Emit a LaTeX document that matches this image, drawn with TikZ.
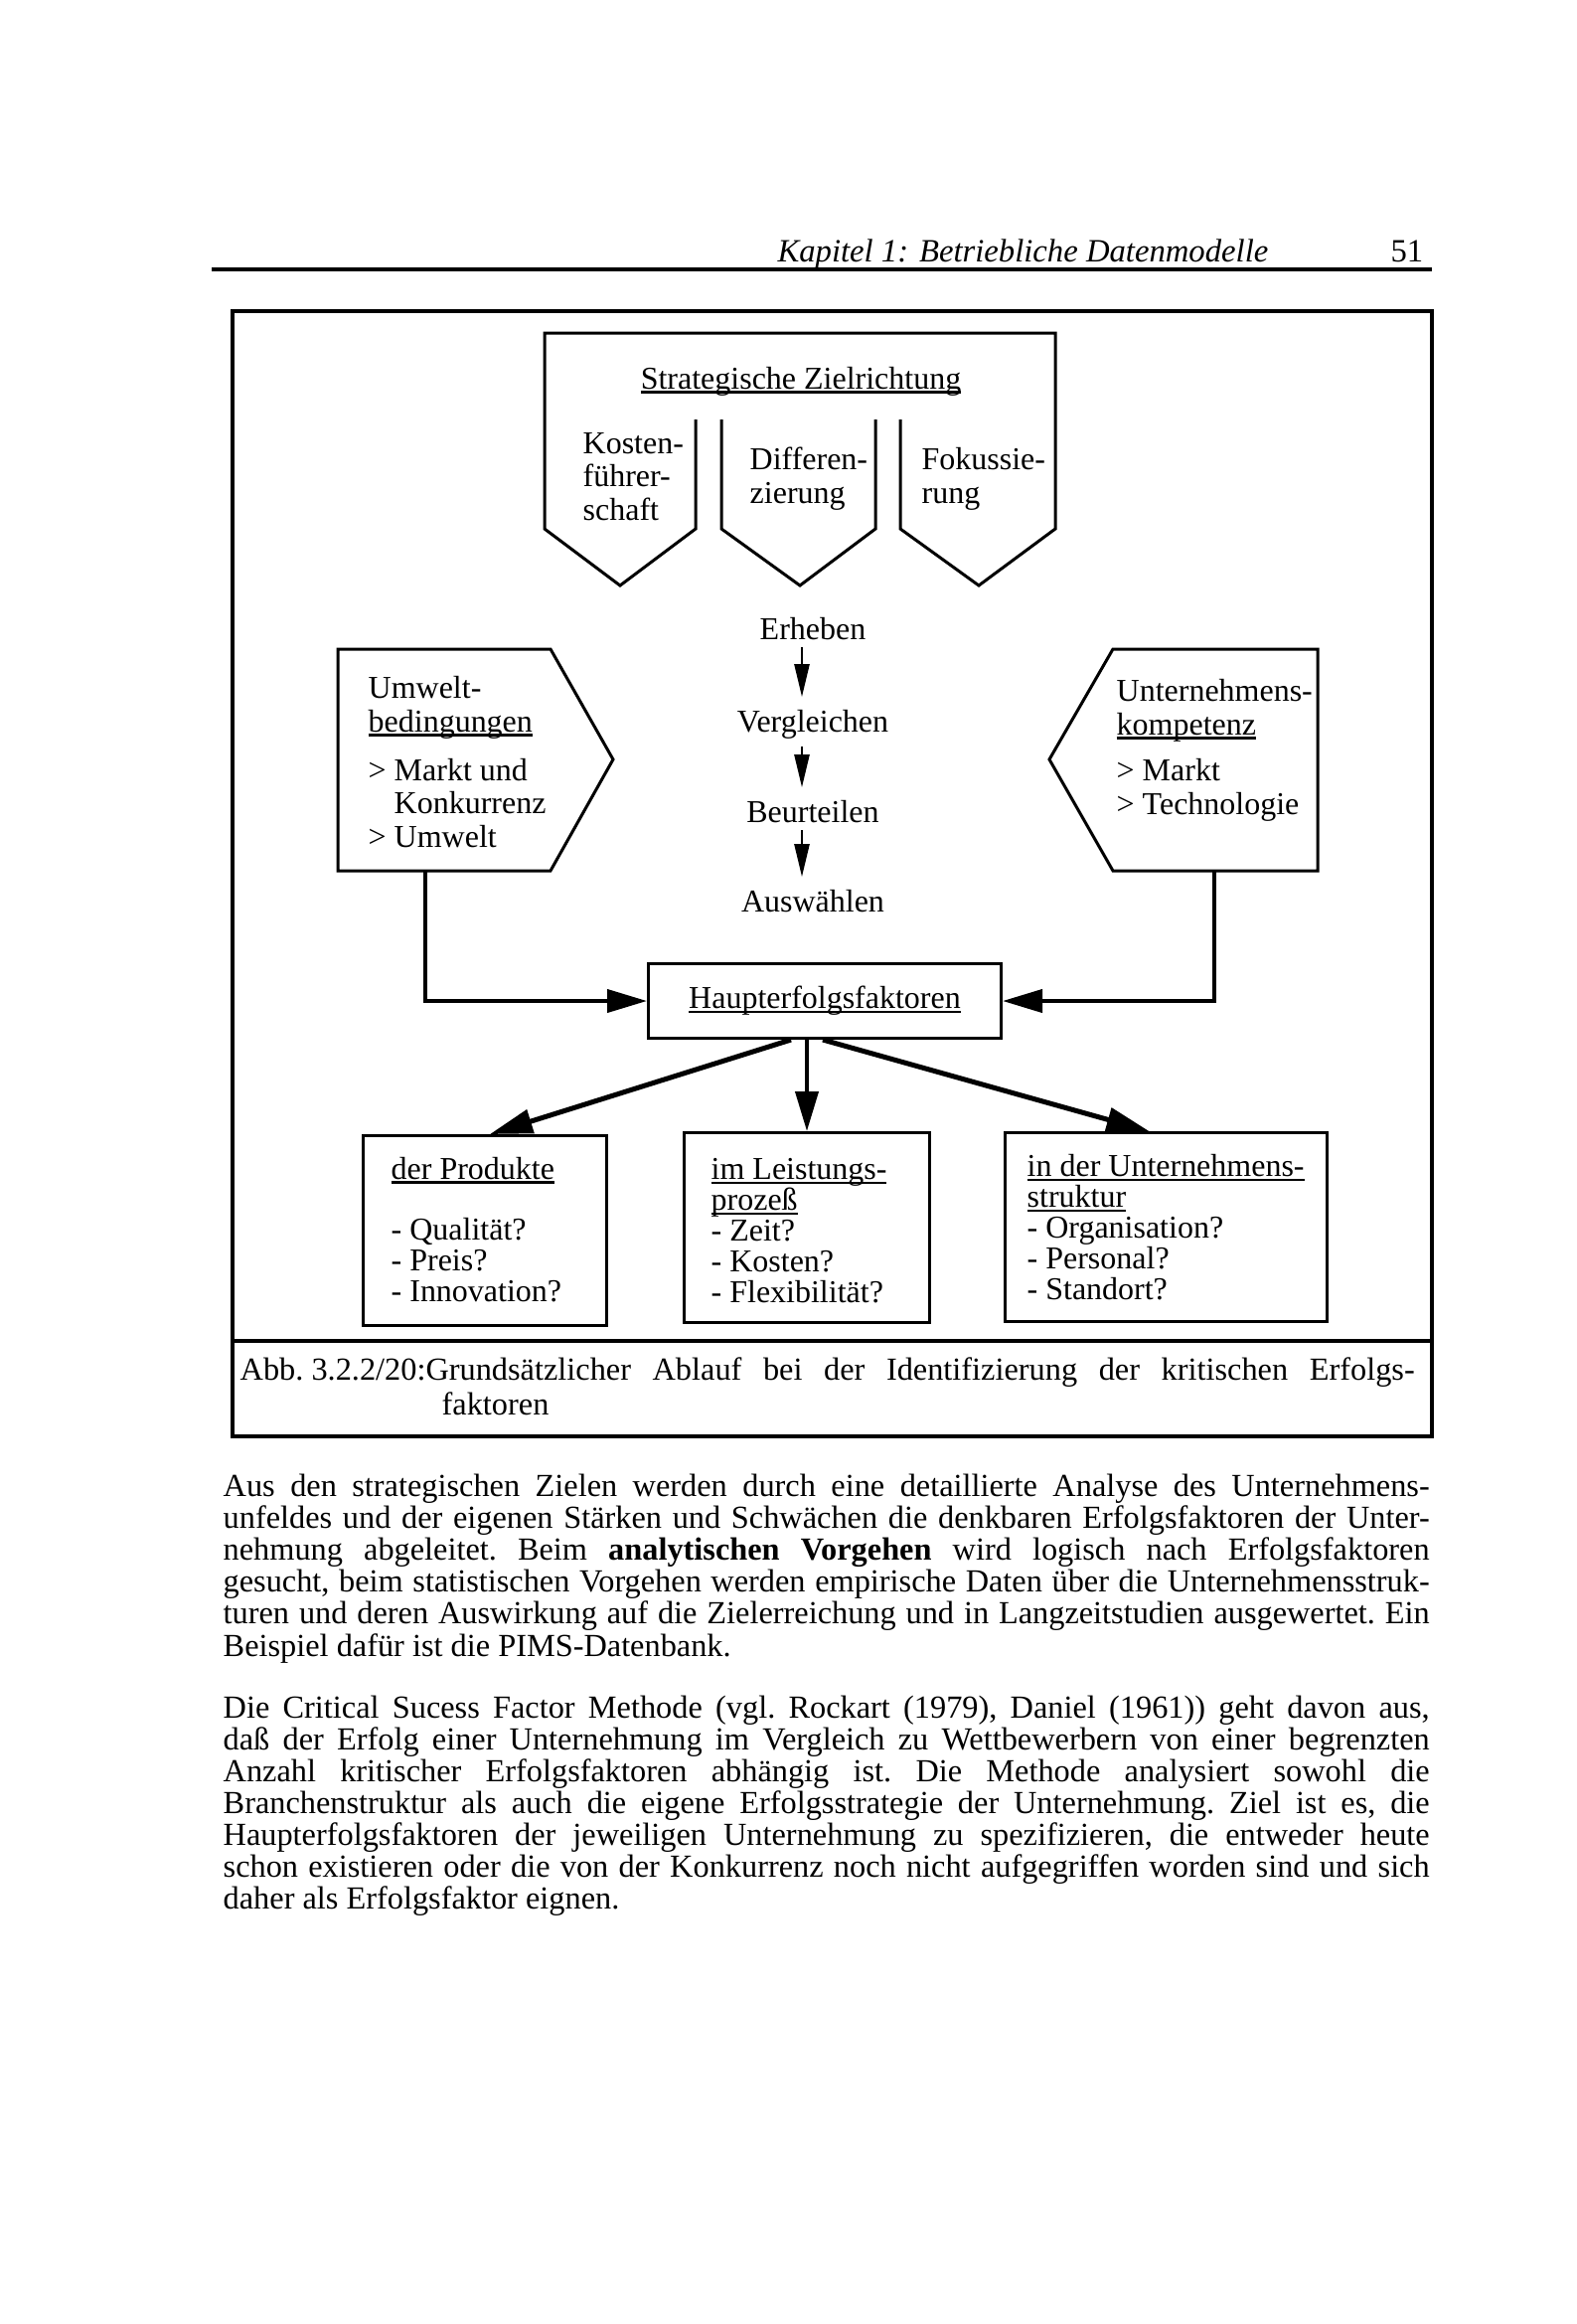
\documentclass[tikz,border=0pt]{standalone}
\usepackage{fontspec}
\setmainfont{Liberation Serif}
\usepackage{graphicx}
\usetikzlibrary{arrows.meta, calc}

% Schriften
\newcommand\dgfont{\fontsize{9.1}{9.4}\selectfont\lineskiplimit=-20pt}
\newcommand\boxfont{\fontsize{9.1}{8.8}\selectfont\lineskiplimit=-20pt}
\newcommand\txfont{\fontsize{9.2}{9.4}\selectfont\frenchspacing}
\newcommand\hdfont{\fontsize{9.3}{9.6}\selectfont}

% Unterstreichung durch die Unterlaengen
\newsavebox\ulbox
\newcommand\uln[1]{\sbox\ulbox{#1}\rlap{\rule[-0.45mm]{\wd\ulbox}{0.22mm}}\usebox\ulbox}

% Blocksatz einer Zeile
\newsavebox\zeilebox
\newlength\bodyw \setlength\bodyw{121.4mm}
\newcommand\fitline[2]{\sbox\zeilebox{#2}%
  \ifdim\wd\zeilebox>#1\relax\resizebox{#1}{\height}{\usebox\zeilebox}%
  \else\makebox[#1][s]{#2}\fi}

\begin{document}
\begin{tikzpicture}[x=0.1mm, y=-0.1mm,
  txt/.style={inner sep=0pt, anchor=base west, align=left, font=\dgfont},
  box/.style={draw, line width=0.3mm},
  flow/.style={-{Triangle[length=3.3mm,width=1.5mm]}, line width=0.25mm, shorten <=0.7mm, shorten >=1.2mm},
  feed/.style={-{Triangle[length=4mm,width=2.3mm]}, line width=0.4mm},
  feedD/.style={-{Triangle[length=4.3mm,width=2.4mm]}, line width=0.5mm},
  body/.style={inner sep=0pt, anchor=base west, font=\txfont}]

\useasboundingbox (0,0) rectangle (1587,2338);

% Kopfzeile
\node[inner sep=0pt, anchor=base east, font=\hdfont\itshape] (kopf) at (1277,263) {Kapitel 1: Betriebliche Datenmodelle};
\node[inner sep=0pt, anchor=base east, font=\hdfont] (seite) at (1433,263) {51};
\draw[line width=0.45mm] (213,271) -- (1441,271);

% Rahmen der Abbildung
\draw[line width=0.4mm] (234,313) rectangle (1441,1445);
\draw[line width=0.35mm] (234,1349) -- (1441,1349);

% Strategische Zielrichtung (Grundlinie = letzte Zeile)
\draw[box] (700,422) -- (700,532) -- (624,589) -- (548,532) -- (548,335) -- (1062,335) -- (1062,532) -- (985,589) -- (906,532) -- (906,422);
\draw[box] (726,422) -- (726,532) -- (805,589) -- (881,532) -- (881,422);
\node[txt, anchor=base] (ziel) at (806,391) {\uln{Strategische Zielrichtung}};
\node[txt] (kosten) at (586,523) {Kosten-\\führer-\\schaft};
\node[txt] (diff) at (754,506) {Differen-\\zierung};
\node[txt] (fokus) at (927,506) {Fokussie-\\rung};

% Ablauf
\node[txt, anchor=base] (erh) at (818,643) {Erheben};
\node[txt, anchor=base] (verg) at (818,736) {Vergleichen};
\node[txt, anchor=base] (beur) at (818,827) {Beurteilen};
\node[txt, anchor=base] (ausw) at (818,917) {Auswählen};
\foreach \a/\b in {erh/verg, verg/beur, beur/ausw}
  \draw[flow] ([xshift=-1.1mm]\a.south) -- ([xshift=-1.1mm]\b.north);

% Umweltbedingungen
\draw[box] (340,653) -- (554,653) -- (617,764) -- (554,876) -- (340,876) -- cycle;
\node[txt] (umw) at (370,736) {Umwelt-\\\uln{bedingungen}};
\node[txt] (umwlist) at (370,852) {> Markt und\\\phantom{> }Konkurrenz\\> Umwelt};
\coordinate (umwfuss) at (428,876);

% Unternehmenskompetenz
\draw[box] (1326,653) -- (1120,653) -- (1056,764) -- (1120,876) -- (1326,876) -- cycle;
\node[txt] (unt) at (1123,739) {Unternehmens-\\\uln{kompetenz}};
\node[txt] (untlist) at (1123,819) {> Markt\\> Technologie};
\coordinate (untfuss) at (1222,876);

% Haupterfolgsfaktoren
\node[box, minimum width=35.5mm, minimum height=7.5mm, anchor=north west, inner sep=0pt, font=\dgfont] (haupt) at (651,968) {\uln{Haupterfolgsfaktoren}};
\draw[feed] (umwfuss) |- (haupt.west);
\draw[feed] (untfuss) |- (haupt.east);

% Felder der Erfolgsfaktoren
\node[box, minimum width=24.5mm, minimum height=19.1mm, anchor=north west] (prod) at (364,1141) {};
\node[box, minimum width=24.7mm, minimum height=19.1mm, anchor=north west] (leist) at (687,1138) {};
\node[box, minimum width=32.4mm, minimum height=19mm, anchor=north west] (struk) at (1010,1138) {};

\node[txt] (prodkopf) at (393,1186) {\uln{der Produkte}};
\node[txt, font=\boxfont] (prodlist) at (393,1309) {- Qualität?\\- Preis?\\- Innovation?};
\node[txt, font=\boxfont] (leisttxt) at (715,1310) {\uln{im Leistungs-}\\\uln{prozeß}\\- Zeit?\\- Kosten?\\- Flexibilität?};
\node[txt, font=\boxfont] (struktxt) at (1033,1307) {\uln{in der Unternehmens-}\\\uln{struktur}\\- Organisation?\\- Personal?\\- Standort?};

\coordinate (hfuss) at (haupt.south -| leist.north);
\draw[feed] (hfuss) -- (leist.north);
\draw[feedD] ([xshift=-1.6mm]hfuss) -- ([xshift=0.5mm]prod.north);
\draw[feedD] ([xshift=1.6mm]hfuss) -- ([xshift=-1.7mm]struk.north);

% Bildunterschrift
\node[body] (abb) at (241,1388) {\fitline{118.2mm}{\mbox{Abb. 3.2.2/20:Grundsätzlicher} Ablauf bei der Identifizierung der kritischen Erfolgs-}};
\node[body] (abbrest) at (444,1423) {faktoren};

% Text
\foreach \zeile [count=\i] in {
  {Aus den strategischen Zielen werden durch eine detaillierte Analyse des Unternehmens-},
  {unfeldes und der eigenen Stärken und Schwächen die denkbaren Erfolgsfaktoren der Unter-},
  {nehmung abgeleitet. Beim \textbf{analytischen Vorgehen} wird logisch nach Erfolgsfaktoren},
  {gesucht, beim statistischen Vorgehen werden empirische Daten über die Unternehmensstruk-},
  {turen und deren Auswirkung auf die Zielerreichung und in Langzeitstudien ausgewertet. Ein}}
  \node[body] (parA\i) at (224,{1505+32.2*(\i-1)}) {\fitline{\bodyw}{\zeile}};
\node[body] (parA6) at (224,1666) {Beispiel dafür ist die PIMS-Datenbank.};

\foreach \zeile [count=\i] in {
  {Die Critical Sucess Factor Methode (vgl. Rockart (1979), Daniel (1961)) geht davon aus,},
  {daß der Erfolg einer Unternehmung im Vergleich zu Wettbewerbern von einer begrenzten},
  {Anzahl kritischer Erfolgsfaktoren abhängig ist. Die Methode analysiert sowohl die},
  {Branchenstruktur als auch die eigene Erfolgsstrategie der Unternehmung. Ziel ist es, die},
  {Haupterfolgsfaktoren der jeweiligen Unternehmung zu spezifizieren, die entweder heute},
  {schon existieren oder die von der Konkurrenz noch nicht aufgegriffen worden sind und sich}}
  \node[body] (parB\i) at (224,{1728+32*(\i-1)}) {\fitline{\bodyw}{\zeile}};
\node[body] (parB7) at (224,1920) {daher als Erfolgsfaktor eignen.};

\end{tikzpicture}
\end{document}
